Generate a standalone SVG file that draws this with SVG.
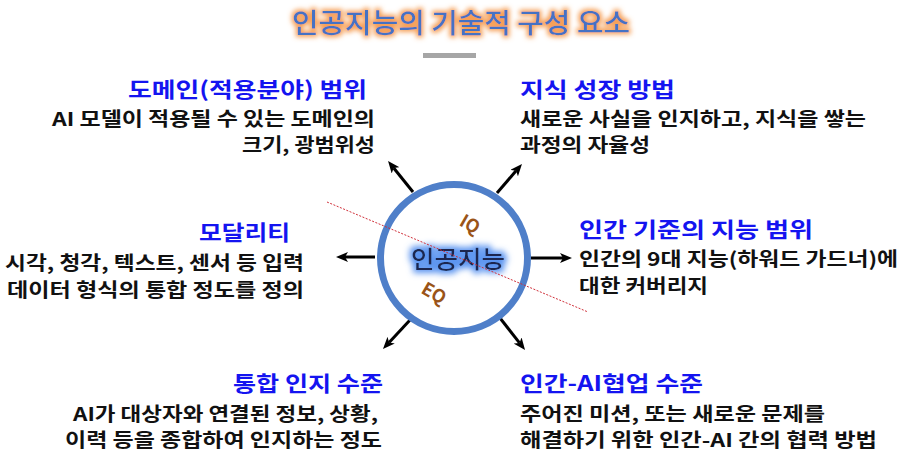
<svg xmlns="http://www.w3.org/2000/svg" width="904" height="463" viewBox="0 0 904 463">
  <defs>
    <style>
      text { font-family: "Noto Sans CJK KR", "Noto Sans", "Liberation Sans", sans-serif; }
      .head { font-size: 21px; font-weight: 700; fill: #1414F0; }
      .body { font-size: 19px; font-weight: 700; fill: #111111; }
      .title { font-size: 27px; font-weight: 500; fill: #4472C4; }
      .core { font-size: 24px; font-weight: 500; fill: #1B2850; }
      .q { font-size: 18px; font-weight: 700; fill: #9A5418; }
      .arrow { stroke: #000000; stroke-width: 3; fill: none; }
    </style>
    <marker id="ah" viewBox="0 0 12 10" refX="3" refY="5" markerWidth="12" markerHeight="10" markerUnits="userSpaceOnUse" orient="auto">
      <path d="M0,0 L12,5 L0,10 L3,5 z" fill="#000000"/>
    </marker>
    <filter id="glowOrange" x="-10%" y="-50%" width="120%" height="200%">
      <feMorphology in="SourceAlpha" operator="dilate" radius="2" result="d"/>
      <feGaussianBlur in="d" stdDeviation="2.5" result="b"/>
      <feFlood flood-color="#F59A4E" flood-opacity="0.95"/>
      <feComposite in2="b" operator="in" result="g"/>
      <feMerge><feMergeNode in="g"/><feMergeNode in="SourceGraphic"/></feMerge>
    </filter>
    <filter id="glowBlue" x="-20%" y="-60%" width="140%" height="220%">
      <feMorphology in="SourceAlpha" operator="dilate" radius="2.5" result="d"/>
      <feGaussianBlur in="d" stdDeviation="3" result="b"/>
      <feFlood flood-color="#5C95F0" flood-opacity="1"/>
      <feComposite in2="b" operator="in" result="g"/>
      <feMerge><feMergeNode in="g"/><feMergeNode in="SourceGraphic"/></feMerge>
    </filter>
  </defs>
  <rect width="904" height="463" fill="#FFFFFF"/>

  <g id="title">
    <text class="title" x="292" y="33" textLength="338" lengthAdjust="spacingAndGlyphs" filter="url(#glowOrange)">인공지능의 기술적 구성 요소</text>
    <rect x="423" y="53" width="53" height="5" fill="#A6A6A6"/>
  </g>

  <g id="connectors">
    <line class="arrow" x1="375" y1="257" x2="345" y2="257" marker-end="url(#ah)"/>
    <line class="arrow" x1="531" y1="258" x2="563" y2="258" marker-end="url(#ah)"/>
    <line class="arrow" x1="413" y1="192" x2="393.7" y2="168" marker-end="url(#ah)"/>
    <line class="arrow" x1="497" y1="193" x2="516.1" y2="170.8" marker-end="url(#ah)"/>
    <line class="arrow" x1="410" y1="320" x2="389.1" y2="342.4" marker-end="url(#ah)"/>
    <line class="arrow" x1="500" y1="318" x2="519.5" y2="342.9" marker-end="url(#ah)"/>
  </g>

  <g id="core">
    <circle cx="454" cy="258" r="73.5" fill="#FFFFFF" stroke="#4F7FC9" stroke-width="7"/>
    <text class="q" x="470" y="230.5" text-anchor="middle" transform="rotate(30 470 224)">IQ</text>
    <text class="q" x="434" y="299.5" text-anchor="middle" transform="rotate(30 434 293)">EQ</text>
    <text class="core" x="411" y="268" textLength="94" lengthAdjust="spacingAndGlyphs" filter="url(#glowBlue)">인공지능</text>
    <line x1="327" y1="202" x2="588" y2="312" stroke="#D0303A" stroke-width="1" stroke-dasharray="2 1.5"/>
  </g>

  <g id="domain">
    <text class="head" x="128" y="97" textLength="239" lengthAdjust="spacingAndGlyphs">도메인(적용분야) 범위</text>
    <text class="body" x="52" y="126" textLength="323" lengthAdjust="spacingAndGlyphs">AI 모델이 적용될 수 있는 도메인의</text>
    <text class="body" x="242" y="151.5" textLength="133" lengthAdjust="spacingAndGlyphs">크기, 광범위성</text>
  </g>

  <g id="knowledge">
    <text class="head" x="520" y="97" textLength="155" lengthAdjust="spacingAndGlyphs">지식 성장 방법</text>
    <text class="body" x="520" y="126" textLength="346" lengthAdjust="spacingAndGlyphs">새로운 사실을 인지하고, 지식을 쌓는</text>
    <text class="body" x="520" y="152" textLength="130" lengthAdjust="spacingAndGlyphs">과정의 자율성</text>
  </g>

  <g id="human">
    <text class="head" x="579" y="237" textLength="234" lengthAdjust="spacingAndGlyphs">인간 기준의 지능 범위</text>
    <text class="body" x="579" y="266" textLength="319" lengthAdjust="spacingAndGlyphs">인간의 9대 지능(하워드 가드너)에</text>
    <text class="body" x="579" y="293" textLength="129" lengthAdjust="spacingAndGlyphs">대한 커버리지</text>
  </g>

  <g id="modality">
    <text class="head" x="199" y="240" textLength="91" lengthAdjust="spacingAndGlyphs">모달리티</text>
    <text class="body" x="5" y="270" textLength="299" lengthAdjust="spacingAndGlyphs">시각, 청각, 텍스트, 센서 등 입력</text>
    <text class="body" x="7" y="297" textLength="297" lengthAdjust="spacingAndGlyphs">데이터 형식의 통합 정도를 정의</text>
  </g>

  <g id="integrated">
    <text class="head" x="233" y="391" textLength="150" lengthAdjust="spacingAndGlyphs">통합 인지 수준</text>
    <text class="body" x="73" y="421" textLength="305" lengthAdjust="spacingAndGlyphs">AI가 대상자와 연결된 정보, 상황,</text>
    <text class="body" x="65" y="446.5" textLength="317" lengthAdjust="spacingAndGlyphs">이력 등을 종합하여 인지하는 정도</text>
  </g>

  <g id="collaboration">
    <text class="head" x="520" y="391" textLength="183" lengthAdjust="spacingAndGlyphs">인간-AI협업 수준</text>
    <text class="body" x="520" y="421" textLength="305" lengthAdjust="spacingAndGlyphs">주어진 미션, 또는 새로운 문제를</text>
    <text class="body" x="520" y="446.5" textLength="357" lengthAdjust="spacingAndGlyphs">해결하기 위한 인간-AI 간의 협력 방법</text>
  </g>
</svg>
